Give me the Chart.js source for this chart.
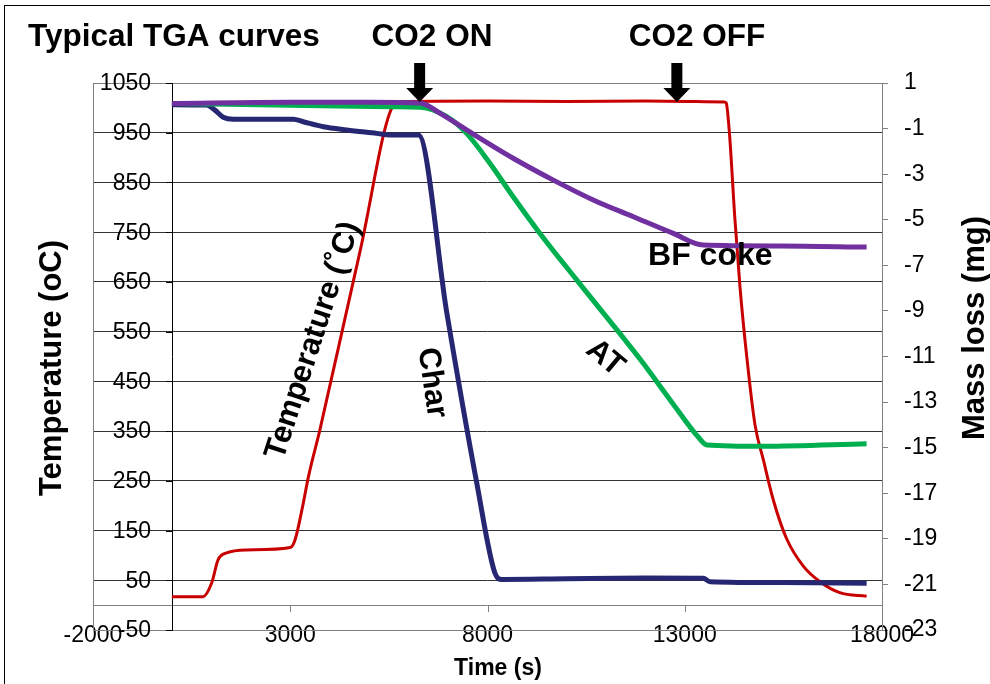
<!DOCTYPE html>
<html>
<head>
<meta charset="utf-8">
<script src="https://cdn.jsdelivr.net/npm/chart.js@4.4.1/dist/chart.umd.min.js"></script>
<style>
html, body { margin: 0; padding: 0; background: #fff; }
canvas { display: block; }
</style>
</head>
<body>
<canvas id="tgaChart" width="990" height="684"></canvas>
<script>
// Temperature (left axis, oC)
const timeTemp = [0, 790, 1010, 1170, 1390, 1900, 3000, 3120, 3330, 3460, 3750, 4770, 5650, 5750, 8000, 10000, 12000, 14000, 14050, 14130, 14270, 14400, 14570, 14780, 14990, 15250, 15580, 16000, 16430, 16930, 17610];
const tempC = [17, 17, 45, 91, 105, 111, 116, 131, 205, 258, 352, 712, 1010, 1013, 1014, 1013, 1014, 1012, 1010, 952, 778, 640, 501, 363, 293, 210, 134, 79, 47, 25, 18];

// Mass loss (right axis, mg)
const timeChar = [0, 880, 1090, 1300, 1560, 3080, 3330, 3840, 4430, 5190, 5530, 6250, 6970, 7730, 8190, 8360, 10000, 12000, 13470, 13640, 15500, 17610];
const massChar = [0.05, 0.03, -0.19, -0.5, -0.59, -0.59, -0.7, -0.92, -1.06, -1.21, -1.28, -1.28, -9.1, -16.57, -20.51, -20.78, -20.75, -20.72, -20.73, -20.88, -20.92, -20.95];

const timeAT = [0, 3000, 5600, 6300, 6970, 7470, 8060, 8650, 9330, 10260, 11870, 12710, 13340, 13560, 15000, 17610];
const massAT = [0.1, 0.02, -0.04, -0.06, -0.48, -1.21, -2.52, -3.99, -5.6, -7.64, -11.12, -13.09, -14.53, -14.88, -14.94, -14.83];

const timeBF = [0, 3000, 5000, 6290, 6800, 7470, 8650, 9670, 10680, 11700, 12710, 13470, 15410, 17610];
const massBF = [0.1, 0.15, 0.15, 0.12, -0.33, -1.06, -2.3, -3.26, -4.13, -4.87, -5.6, -6.11, -6.15, -6.2];

// axis ticks
const timeTicks = [-2000, 3000, 8000, 13000, 18000];
const tempRange = [-50, 1050];
const massRange = [-23, 1];

const pairs = (xs, ys) => xs.map((x, i) => ({ x: x, y: ys[i] }));

const FONT = '"Liberation Sans", Arial, sans-serif';
Chart.defaults.font.family = FONT;
Chart.defaults.color = '#000';

function lineSet(label, data, color, width, axis) {
    return {
        label: label,
        data: data,
        yAxisID: axis,
        showLine: true,
        borderColor: color,
        backgroundColor: color,
        borderWidth: width,
        pointRadius: 0,
        fill: false,
        cubicInterpolationMode: 'monotone'
    };
}

function rotatedText(ctx, text, x, y, angle, font) {
    ctx.save();
    ctx.translate(x, y);
    ctx.rotate(angle * Math.PI / 180);
    ctx.font = font;
    ctx.textAlign = 'center';
    ctx.textBaseline = 'middle';
    ctx.fillText(text, 0, 0);
    ctx.restore();
}

function downArrow(ctx, x, tipY) {
    ctx.beginPath();
    ctx.moveTo(x - 5.5, tipY - 39);
    ctx.lineTo(x + 5.5, tipY - 39);
    ctx.lineTo(x + 5.5, tipY - 14);
    ctx.lineTo(x + 13.5, tipY - 14);
    ctx.lineTo(x, tipY);
    ctx.lineTo(x - 13.5, tipY - 14);
    ctx.lineTo(x - 5.5, tipY - 14);
    ctx.closePath();
    ctx.fillStyle = '#000';
    ctx.fill();
}

function hLine(ctx, x1, x2, y, color) {
    ctx.strokeStyle = color;
    ctx.beginPath();
    ctx.moveTo(x1, Math.round(y) + 0.5);
    ctx.lineTo(x2, Math.round(y) + 0.5);
    ctx.stroke();
}

function vLine(ctx, x, y1, y2, color) {
    ctx.strokeStyle = color;
    ctx.beginPath();
    ctx.moveTo(Math.round(x) + 0.5, y1);
    ctx.lineTo(Math.round(x) + 0.5, y2);
    ctx.stroke();
}

const decorPlugin = {
    id: 'decor',
    beforeDatasetsDraw(chart) {
        const { ctx, chartArea: a, scales } = chart;
        const x0 = scales.x.getPixelForValue(0);
        const y0 = scales.y.getPixelForValue(0);
        ctx.save();
        ctx.lineWidth = 1;
        ctx.strokeStyle = '#808080';
        ctx.strokeRect(Math.round(a.left) + 0.5, Math.round(a.top) + 0.5,
            Math.round(a.right - a.left), Math.round(a.bottom - a.top));

        // x axis crosses at 0 oC
        hLine(ctx, a.left, a.right, y0, '#808080');
        scales.x.ticks.forEach(t => {
            vLine(ctx, scales.x.getPixelForValue(t.value), Math.round(y0) + 1, Math.round(y0) + 7, '#808080');
        });

        // temperature axis crosses at t = 0
        vLine(ctx, x0, a.top, a.bottom, '#000');
        ctx.fillStyle = '#000';
        ctx.font = '23px ' + FONT;
        ctx.textAlign = 'right';
        ctx.textBaseline = 'middle';
        scales.y.ticks.forEach(t => {
            const yy = scales.y.getPixelForValue(t.value);
            hLine(ctx, Math.round(x0) - 6, Math.round(x0) + 1, yy, '#000');
            ctx.fillText(String(t.value), Math.round(x0) - 21, yy + 1);
        });
        ctx.restore();
    },
    afterDraw(chart) {
        const { ctx, scales } = chart;
        const px = t => scales.x.getPixelForValue(t);
        const py = v => scales.y.getPixelForValue(v);
        ctx.save();
        // outer border
        ctx.strokeStyle = '#000';
        ctx.lineWidth = 1;
        ctx.strokeRect(4.5, 5.5, 1000, 700);

        ctx.fillStyle = '#000';
        ctx.textBaseline = 'alphabetic';
        ctx.font = 'bold 31.5px ' + FONT;
        ctx.textAlign = 'left';
        ctx.fillText('Typical TGA curves', 28, 46);
        ctx.textAlign = 'center';
        ctx.fillText('CO2 ON', 432, 46);
        ctx.fillText('CO2 OFF', 697, 46);

        downArrow(ctx, px(6280), py(1012));
        downArrow(ctx, px(12800), py(1012));

        // axis titles
        rotatedText(ctx, 'Temperature (oC)', 52, 368, -90, 'bold 31px ' + FONT);
        rotatedText(ctx, 'Mass loss (mg)', 975, 328, -90, 'bold 31px ' + FONT);
        ctx.font = 'bold 23px ' + FONT;
        ctx.textAlign = 'center';
        ctx.textBaseline = 'alphabetic';
        ctx.fillText('Time (s)', 498, 675);

        // curve labels
        rotatedText(ctx, 'Temperature (\u02DAC)', px(3580), py(532), -72, 'bold 31px ' + FONT);
        rotatedText(ctx, 'Char', px(6590), py(447), 82, 'bold 31px ' + FONT);
        rotatedText(ctx, 'AT', px(10980), py(497), 40, 'bold 31px ' + FONT);
        ctx.font = 'bold 32px ' + FONT;
        ctx.textAlign = 'left';
        ctx.textBaseline = 'alphabetic';
        ctx.fillText('BF coke', px(12070), py(684));
        ctx.restore();
    }
};

new Chart(document.getElementById('tgaChart'), {
    type: 'scatter',
    data: {
        datasets: [
            lineSet('BF coke', pairs(timeBF, massBF), '#7030A0', 5, 'y2'),
            lineSet('AT', pairs(timeAT, massAT), '#00B050', 5, 'y2'),
            lineSet('Char', pairs(timeChar, massChar), '#262673', 5, 'y2'),
            lineSet('Temperature', pairs(timeTemp, tempC), '#C80000', 3, 'y')
        ]
    },
    options: {
        responsive: false,
        animation: false,
        devicePixelRatio: 1,
        layout: { padding: { left: 93, top: 83, right: 28, bottom: 54 } },
        plugins: { legend: { display: false }, tooltip: { enabled: false } },
        scales: {
            x: {
                type: 'linear',
                position: { y: 0 },
                min: timeTicks[0],
                max: timeTicks[timeTicks.length - 1],
                ticks: {
                    stepSize: timeTicks[1] - timeTicks[0],
                    callback: v => String(v),
                    font: { size: 23 },
                    color: '#000',
                    padding: 17,
                    maxRotation: 0,
                    autoSkip: false
                },
                grid: { display: false, drawTicks: false },
                border: { display: false }
            },
            y: {
                type: 'linear',
                position: { x: 0 },
                min: tempRange[0],
                max: tempRange[1],
                ticks: {
                    stepSize: 100,
                    display: false,
                    autoSkip: false
                },
                grid: { color: '#333', drawTicks: false },
                border: { display: false }
            },
            y2: {
                type: 'linear',
                position: 'right',
                min: massRange[0],
                max: massRange[1],
                ticks: {
                    stepSize: 2,
                    callback: v => String(v),
                    font: { size: 23 },
                    color: '#000',
                    padding: 16,
                    autoSkip: false
                },
                grid: { drawOnChartArea: false, tickLength: 6, color: '#808080' },
                border: { color: '#808080' },
                afterFit: s => { s.width = 80; }
            }
        }
    },
    plugins: [decorPlugin]
});
</script>
</body>
</html>
